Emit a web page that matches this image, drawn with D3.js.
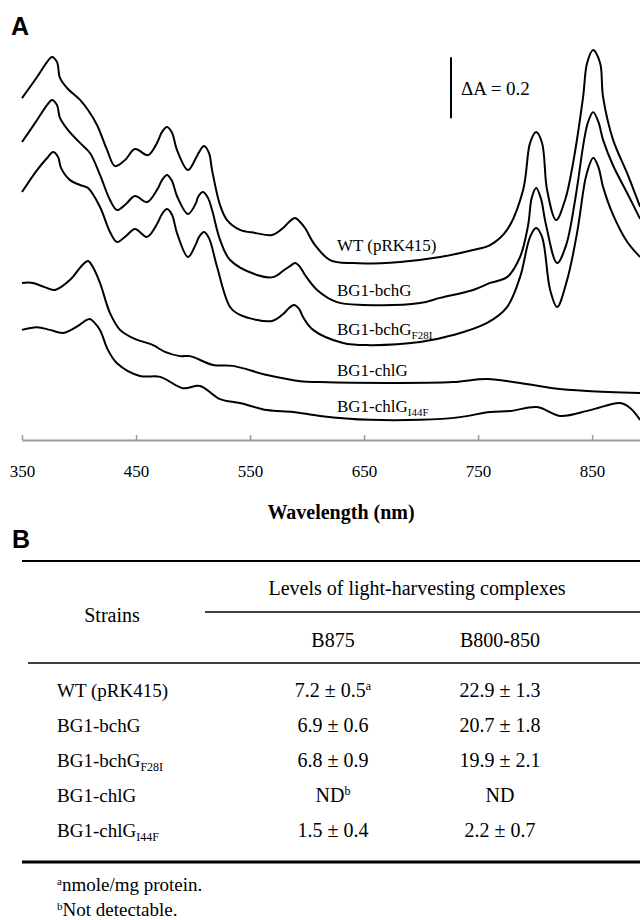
<!DOCTYPE html>
<html>
<head>
<meta charset="utf-8">
<script src="https://cdn.jsdelivr.net/npm/d3@7"></script>
<style>
  body { margin: 0; background: #fff; }
  svg { display: block; }
</style>
</head>
<body>
<div id="chart"></div>
<script>
// spectra: [wavelength nm, absorbance (offset)]
const wtSpec = [[350,1.121],[363.2,1.190],[371.9,1.239],[376.3,1.256],[380.7,1.239],[383.3,1.187],[389.5,1.154],[400.9,1.115],[407.9,1.082],[415.8,1.033],[424.6,0.951],[431.6,0.898],[440.4,0.918],[449.1,0.954],[460.5,0.934],[468.4,0.974],[472.8,1.010],[477.2,1.026],[481.6,1.007],[485.9,0.951],[495.6,0.885],[502.6,0.925],[505.3,0.944],[509.6,0.964],[514,0.941],[516.7,0.885],[523.7,0.770],[529.8,0.721],[541.2,0.689],[554.4,0.679],[569.3,0.672],[579,0.695],[585.1,0.718],[589.5,0.728],[593.9,0.715],[598.2,0.695],[607,0.639],[620.2,0.590],[640.4,0.580],[681.6,0.584],[716.7,0.600],[745.6,0.623],[760.5,0.639],[775.4,0.689],[789.5,0.820],[795.6,0.974],[800.9,1.010],[806.1,0.974],[810.5,0.820],[818.4,0.721],[826.3,0.787],[833.3,0.908],[842.1,1.125],[845.6,1.236],[850.9,1.279],[857,1.236],[859.6,1.125],[868.4,0.984],[880.7,0.875],[892.1,0.764]];

const bchGSpec = [[350,0.977],[363.2,1.049],[371.9,1.098],[376.3,1.115],[380.7,1.098],[383.3,1.056],[390.4,1.016],[400.9,0.974],[409.6,0.941],[418.4,0.869],[427.2,0.787],[433.3,0.754],[441.2,0.774],[449.1,0.800],[459.6,0.780],[468.4,0.820],[472.8,0.852],[477.2,0.869],[481.6,0.849],[485.9,0.800],[495.6,0.741],[502.6,0.777],[504.4,0.797],[508.8,0.813],[513.2,0.793],[516.7,0.754],[523.7,0.656],[532.5,0.590],[556.1,0.541],[570.2,0.534],[579.8,0.557],[585.1,0.570],[589.5,0.580],[593.9,0.567],[598.2,0.541],[608.8,0.492],[626.3,0.452],[649.1,0.443],[699.1,0.449],[716.7,0.466],[745.6,0.492],[760.5,0.515],[775.4,0.534],[786.8,0.600],[793.9,0.705],[797,0.793],[800.9,0.826],[805,0.793],[809.6,0.705],[819.3,0.580],[827.2,0.639],[835.1,0.787],[843,0.984],[846.5,1.043],[850.9,1.075],[855.5,1.043],[859.6,0.984],[868.4,0.900],[880.7,0.810],[892.1,0.725]];

const bchGF28ISpec = [[350,0.813],[363.2,0.885],[372.8,0.928],[377.2,0.944],[381.6,0.928],[384.2,0.892],[392.1,0.852],[400.9,0.836],[407.9,0.826],[418.4,0.764],[427.2,0.682],[433.3,0.649],[441.2,0.669],[449.1,0.692],[459.6,0.666],[468.4,0.708],[472.8,0.741],[477.2,0.757],[481.6,0.738],[485.9,0.679],[495.6,0.600],[502.6,0.643],[505.3,0.666],[509.6,0.682],[514,0.662],[521.1,0.567],[532.5,0.436],[541.2,0.410],[569.3,0.390],[579,0.413],[584.2,0.433],[588.6,0.443],[593,0.430],[596.5,0.403],[605.3,0.361],[631.6,0.318],[655.3,0.311],[699.1,0.321],[728.1,0.344],[757.9,0.384],[775.4,0.436],[786.8,0.534],[795.6,0.666],[800.9,0.695],[806.1,0.666],[813.2,0.492],[819.3,0.436],[828.1,0.525],[836.8,0.679],[843.9,0.852],[847,0.895],[850.9,0.925],[855.5,0.895],[859.6,0.830],[868.4,0.738],[880.7,0.650],[892.1,0.600]];

const chlGSpec = [[350,0.515],[359.6,0.515],[369.3,0.502],[378.9,0.492],[392.1,0.525],[403,0.574],[407.9,0.587],[412,0.568],[418.4,0.515],[427.2,0.416],[436,0.361],[447.4,0.334],[464.9,0.311],[475.4,0.289],[488.6,0.275],[497.4,0.275],[517.5,0.246],[535.1,0.243],[564.9,0.213],[593.9,0.193],[611.4,0.190],[670.2,0.187],[728.1,0.190],[757.9,0.200],[786.8,0.187],[815.8,0.170],[845.6,0.161],[892.1,0.154]];

const chlGI44FSpec = [[350,0.361],[363.2,0.370],[374.6,0.361],[386,0.351],[399.1,0.374],[405,0.390],[409.6,0.397],[413.5,0.385],[418.4,0.361],[425.4,0.295],[433.3,0.252],[453.5,0.210],[471.1,0.207],[491.2,0.170],[506.1,0.177],[523.7,0.134],[541.2,0.121],[564.9,0.098],[587.7,0.092],[611.4,0.079],[655.3,0.066],[699.1,0.066],[734.2,0.075],[760.5,0.092],[778.1,0.095],[801.8,0.108],[821.9,0.079],[848.2,0.098],[874.6,0.121],[883.3,0.105],[892.1,0.066]];

const xTicks = [350, 450, 550, 650, 750, 850];

// table B
const strainNames = ["WT (pRK415)", "BG1-bchG", "BG1-bchG", "BG1-chlG", "BG1-chlG"];
const strainSubs = ["", "", "F28I", "", "I44F"];
const b875 = ["7.2 ± 0.5", "6.9 ± 0.6", "6.8 ± 0.9", "ND", "1.5 ± 0.4"];
const b875Sup = ["a", "", "", "b", ""];
const b800850 = ["22.9 ± 1.3", "20.7 ± 1.8", "19.9 ± 2.1", "ND", "2.2 ± 0.7"];
const footnotes = [["a", "nmole/mg protein."], ["b", "Not detectable."]];

const width = 640;
const height = 920;
const serif = "'Liberation Serif', 'Times New Roman', serif";
const sans = "'Liberation Sans', Arial, sans-serif";

const svg = d3.select("#chart").append("svg")
    .attr("width", width)
    .attr("height", height);

// ---------- panel A ----------
const x = d3.scaleLinear().domain([350, 892]).range([22, 640]);
const y = d3.scaleLinear().domain([0, 1.4]).range([440, 13]);

svg.append("text")
    .attr("x", 11).attr("y", 35)
    .attr("font-family", sans).attr("font-weight", "bold").attr("font-size", 25)
    .text("A");

const line = d3.line()
    .x(d => x(d[0]))
    .y(d => y(d[1]))
    .curve(d3.curveCatmullRom.alpha(0.5));

const spectra = [wtSpec, bchGSpec, bchGF28ISpec, chlGSpec, chlGI44FSpec];
svg.append("g")
    .selectAll("path")
    .data(spectra)
    .join("path")
    .attr("fill", "none")
    .attr("stroke", "#000")
    .attr("stroke-width", 2)
    .attr("stroke-linejoin", "round")
    .attr("d", line);

const xAxis = svg.append("g")
    .attr("transform", `translate(0, ${y(0)})`)
    .call(d3.axisBottom(x).tickValues(xTicks).tickSize(-5).tickSizeOuter(0).tickPadding(25));
xAxis.select(".domain").attr("stroke", "#999").attr("stroke-width", 2);
xAxis.selectAll(".tick line").attr("stroke", "#999").attr("stroke-width", 1.5);
xAxis.selectAll(".tick text")
    .attr("font-family", serif).attr("font-size", 17).attr("fill", "#000");

svg.append("text")
    .attr("x", 341).attr("y", 519)
    .attr("text-anchor", "middle")
    .attr("font-family", serif).attr("font-weight", "bold").attr("font-size", 20)
    .text("Wavelength (nm)");

// scale bar dA = 0.2
svg.append("line")
    .attr("x1", 451).attr("x2", 451)
    .attr("y1", y(1.255)).attr("y2", y(1.055))
    .attr("stroke", "#000").attr("stroke-width", 2);
svg.append("text")
    .attr("x", 461).attr("y", 95)
    .attr("font-family", serif).attr("font-size", 19)
    .text("ΔA = 0.2");

// curve labels
const labelY = [251, 296, 335, 376, 412];
const curveLabels = svg.append("g")
    .attr("font-family", serif).attr("font-size", 17);
strainNames.forEach((name, i) => {
  const t = curveLabels.append("text").attr("x", 337).attr("y", labelY[i]).text(name);
  if (strainSubs[i]) t.append("tspan").attr("font-size", 11).attr("dy", 4).text(strainSubs[i]);
});

// ---------- panel B ----------
svg.append("text")
    .attr("x", 12).attr("y", 548)
    .attr("font-family", sans).attr("font-weight", "bold").attr("font-size", 25)
    .text("B");

const tbl = svg.append("g").attr("font-family", serif).attr("font-size", 20);

const rule = (x1, yy, w) => tbl.append("line")
    .attr("x1", x1).attr("x2", 640).attr("y1", yy).attr("y2", yy)
    .attr("stroke", "#000").attr("stroke-width", w);
rule(22, 561, 2);
rule(205, 612, 1.5);
rule(28, 663, 1.5);
rule(22, 862, 3);

tbl.append("text").attr("x", 417).attr("y", 595).attr("text-anchor", "middle")
    .text("Levels of light-harvesting complexes");
tbl.append("text").attr("x", 112).attr("y", 622).attr("text-anchor", "middle")
    .text("Strains");
tbl.append("text").attr("x", 333).attr("y", 647).attr("text-anchor", "middle").text("B875");
tbl.append("text").attr("x", 500).attr("y", 647).attr("text-anchor", "middle").text("B800-850");

const rowY = d3.scalePoint().domain(d3.range(strainNames.length)).range([697, 837]);
strainNames.forEach((name, i) => {
  const ry = rowY(i);
  const t = tbl.append("text").attr("x", 57).attr("y", ry).attr("font-size", 19).text(name);
  if (strainSubs[i]) t.append("tspan").attr("font-size", 12).attr("dy", 4).text(strainSubs[i]);
  const c1 = tbl.append("text").attr("x", 333).attr("y", ry).attr("text-anchor", "middle").text(b875[i]);
  if (b875Sup[i]) c1.append("tspan").attr("font-size", 12).attr("dy", -7).text(b875Sup[i]);
  tbl.append("text").attr("x", 500).attr("y", ry).attr("text-anchor", "middle").text(b800850[i]);
});

footnotes.forEach((f, i) => {
  const t = tbl.append("text").attr("x", 57).attr("y", 891 + i * 25).attr("font-size", 19);
  t.append("tspan").attr("font-size", 11).attr("dy", -6).text(f[0]);
  t.append("tspan").attr("dy", 6).text(f[1]);
});
</script>
</body>
</html>
